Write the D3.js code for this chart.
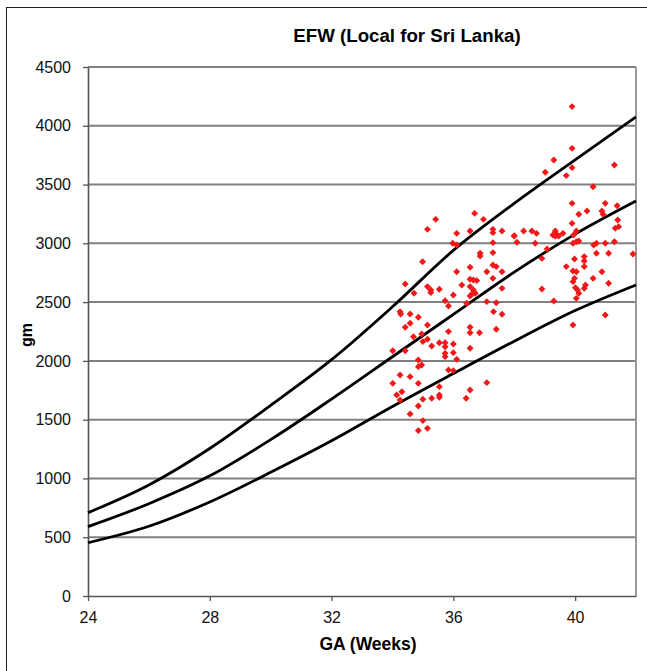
<!DOCTYPE html>
<html>
<head>
<meta charset="utf-8">
<script src="https://cdn.jsdelivr.net/npm/d3@7"></script>
<style>
  body { margin: 0; background: #fff; }
  text { font-family: Arial, "Liberation Sans", sans-serif; }
</style>
</head>
<body>
<div id="chart"></div>
<script>
// centile curves (gm) by gestational age (weeks)
var weeks  = [24, 26, 28, 30, 32, 34, 36, 38, 40, 42];
var upper  = [709, 945, 1255, 1622, 2010, 2460, 2940, 3340, 3710, 4075];
var middle = [590, 785, 1022, 1330, 1675, 2035, 2395, 2755, 3078, 3360];
var lower  = [453, 593, 800, 1052, 1320, 1612, 1892, 2167, 2428, 2646];

// observed birth weights
var obsGA = [
  36.70, 36.99, 35.42, 35.15, 36.11, 36.55, 37.30, 37.30, 35.98, 36.11,
  37.30, 36.88, 36.88, 37.30, 34.99, 37.30, 37.41, 36.11, 36.55, 37.10,
  36.55, 36.66, 36.77, 37.30, 34.42, 35.15, 35.26, 35.26, 35.54, 34.71,
  36.28, 36.55, 36.66, 36.61, 36.55, 36.72, 36.00, 35.73, 37.10, 37.41,
  36.44, 35.84, 34.25, 34.27, 34.58, 34.85, 37.32, 34.42, 34.58, 35.15,
  34.69, 34.96, 35.84, 36.55, 36.55, 36.86, 37.41,
  35.00, 35.15, 35.29, 35.54, 35.73, 35.73, 36.00, 36.55, 34.01, 34.42,
  35.73, 36.00, 35.73, 36.11, 34.85, 34.85, 34.96, 35.84, 36.00, 34.25,
  34.58, 34.01, 34.85, 37.10, 35.54, 34.14, 34.31, 34.25, 36.55, 36.42,
  35.54, 35.54, 35.29, 35.00, 34.85, 34.58, 35.00, 34.85, 35.15,
  39.90, 39.90, 39.30, 39.02, 39.90, 39.71, 41.29, 40.59, 39.90, 40.99,
  40.12, 40.39, 40.88, 40.92, 41.38, 41.40, 39.90, 41.32, 41.43, 37.60,
  38.31, 38.58, 38.73, 38.00, 39.35, 39.41, 39.27, 39.60, 40.04, 39.95,
  38.00, 38.69, 39.35, 39.46, 39.93, 40.04, 40.12, 40.61, 40.70, 40.99,
  41.29, 38.09, 40.70, 41.10, 41.90, 39.08, 38.91, 40.30, 40.30, 39.98,
  39.71, 39.93, 40.04, 39.98, 39.93, 40.30, 40.88, 40.59, 41.10, 37.60,
  37.60, 38.91, 40.01, 40.08, 40.12, 40.30, 40.34, 40.04, 39.30, 37.60,
  40.99, 39.93
];
var obsGm = [
  3255, 3204, 3204, 3119, 3085, 3105, 3119, 3091, 3000, 2986,
  3006, 2915, 2892, 2921, 2844, 2816, 2802, 2759, 2796, 2759,
  2694, 2688, 2683, 2702, 2654, 2632, 2603, 2581, 2609, 2575,
  2646, 2632, 2603, 2569, 2552, 2575, 2561, 2512, 2504, 2495,
  2490, 2467, 2419, 2399, 2399, 2371, 2419, 2286, 2320, 2305,
  2206, 2229, 2249, 2286, 2240, 2240, 2269,
  2164, 2184, 2127, 2155, 2155, 2121, 2144, 2107, 2087, 2087,
  2064, 2070, 2036, 2013, 2008, 1951, 1965, 1923, 1917, 1880,
  1866, 1809, 1809, 1815, 1781, 1710, 1738, 1667, 1753, 1682,
  1710, 1690, 1682, 1673, 1616, 1548, 1492, 1407, 1426,
  4163, 3808, 3709, 3604, 3644, 3576, 3666, 3482, 3340, 3340,
  3247, 3275, 3275, 3247, 3320, 3199, 3170, 3128, 3142, 3105,
  3105, 3105, 3085, 3065, 3105, 3071, 3071, 3085, 3105, 3071,
  3062, 3000, 3062, 3062, 3000, 3014, 3020, 2986, 3000, 3000,
  3014, 3009, 2915, 2915, 2909, 2952, 2872, 2887, 2850, 2867,
  2802, 2765, 2759, 2702, 2674, 2802, 2759, 2702, 2660, 2759,
  2617, 2612, 2623, 2603, 2575, 2617, 2646, 2532, 2509, 2396,
  2390, 2305
];

var xTicks = [24, 28, 32, 36, 40];
var yTicks = [0, 500, 1000, 1500, 2000, 2500, 3000, 3500, 4000, 4500];

var width = 647,
    height = 671,
    plotLeft = 88, plotRight = 636, plotTop = 67, plotBottom = 596;

var svg = d3.select("#chart").append("svg")
    .attr("width", width)
    .attr("height", height);

// outer frame
svg.append("rect")
    .attr("x", 6.5)
    .attr("y", 7.5)
    .attr("width", 700)
    .attr("height", 700)
    .attr("fill", "none")
    .attr("stroke", "#222")
    .attr("stroke-width", 1);

var x = d3.scaleLinear().domain([24, 42]).range([plotLeft, plotRight]);
var y = d3.scaleLinear().domain([0, 4500]).range([plotBottom, plotTop]);

// gridlines
svg.append("g")
  .selectAll("line")
    .data(yTicks.filter(function(d) { return d > 0; }))
  .enter().append("line")
    .attr("x1", plotLeft)
    .attr("x2", plotRight)
    .attr("y1", function(d) { return y(d); })
    .attr("y2", function(d) { return y(d); })
    .attr("stroke", "#808080")
    .attr("stroke-width", 2);

// right edge of plot area
svg.append("line")
    .attr("x1", plotRight).attr("x2", plotRight)
    .attr("y1", plotTop).attr("y2", plotBottom)
    .attr("stroke", "#999")
    .attr("stroke-width", 2);

// axes
var yAxis = svg.append("g")
    .attr("transform", "translate(" + plotLeft + ",0)")
    .call(d3.axisLeft(y).tickValues(yTicks).tickFormat(d3.format("d"))
      .tickSize(5).tickPadding(12).tickSizeOuter(0));
var xAxis = svg.append("g")
    .attr("transform", "translate(0," + plotBottom + ")")
    .call(d3.axisBottom(x).tickValues(xTicks).tickFormat(d3.format("d"))
      .tickSize(5).tickPadding(11).tickSizeOuter(0));

[xAxis, yAxis].forEach(function(a) {
  a.attr("font-size", 16).attr("font-family", "Arial, 'Liberation Sans', sans-serif");
  a.select(".domain").attr("stroke", "#555").attr("stroke-width", 1.6);
  a.selectAll(".tick line").attr("stroke", "#555").attr("stroke-width", 1.3);
  a.selectAll(".tick text").attr("fill", "#111");
});

// centile curves
var line = d3.line()
    .x(function(d) { return x(d[0]); })
    .y(function(d) { return y(d[1]); })
    .curve(d3.curveMonotoneX);

[upper, middle, lower].forEach(function(series) {
  svg.append("path")
      .datum(weeks.map(function(w, i) { return [w, series[i]]; }))
      .attr("d", line)
      .attr("fill", "none")
      .attr("stroke", "#000")
      .attr("stroke-width", 2.8);
});

// observations, red diamonds
var diamond = d3.symbol().type(d3.symbolSquare).size(24);
svg.append("g")
  .selectAll("path")
    .data(obsGA.map(function(g, i) { return [g, obsGm[i]]; }))
  .enter().append("path")
    .attr("d", diamond)
    .attr("transform", function(d) {
      return "translate(" + x(d[0]) + "," + y(d[1]) + ")rotate(45)";
    })
    .attr("fill", "#f01818");

// titles
svg.append("text")
    .attr("x", 407)
    .attr("y", 42)
    .attr("text-anchor", "middle")
    .style("font-size", "18.7px")
    .style("font-weight", "bold")
    .text("EFW (Local for Sri Lanka)");

svg.append("text")
    .attr("transform", "translate(32,335)rotate(-90)")
    .attr("text-anchor", "middle")
    .style("font-size", "16px")
    .style("font-weight", "bold")
    .text("gm");

svg.append("text")
    .attr("x", 368)
    .attr("y", 650)
    .attr("text-anchor", "middle")
    .style("font-size", "17.5px")
    .style("font-weight", "bold")
    .text("GA (Weeks)");
</script>
</body>
</html>
